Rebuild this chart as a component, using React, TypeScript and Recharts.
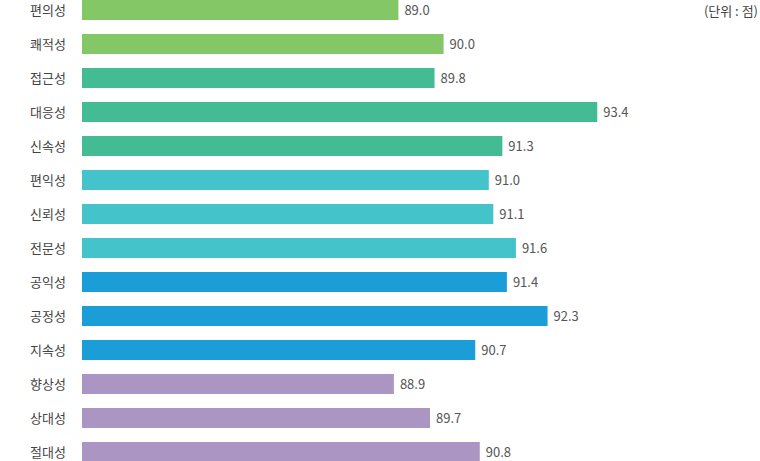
import { Bar, BarChart, Cell, LabelList, XAxis, YAxis } from "recharts";

const categories = [
	"편의성",
	"쾌적성",
	"접근성",
	"대응성",
	"신속성",
	"편익성",
	"신뢰성",
	"전문성",
	"공익성",
	"공정성",
	"지속성",
	"향상성",
	"상대성",
	"절대성",
];

const scores = [89.0, 90.0, 89.8, 93.4, 91.3, 91.0, 91.1, 91.6, 91.4, 92.3, 90.7, 88.9, 89.7, 90.8];

// group of each row, used to pick the bar colour
const groups = [0, 0, 1, 1, 1, 2, 2, 2, 3, 3, 3, 4, 4, 4];

const unitLabel = "(단위 : 점)";

const groupColors = ["#84c766", "#43bb93", "#45c3cb", "#1b9ed8", "#aa95c3"];

const FONT = "'Noto Sans CJK KR', 'Noto Sans', sans-serif";

const data = categories.map((name, i) => ({
	name,
	score: scores[i],
	group: groups[i],
}));

export default function App(): JSX.Element {
	return (
		<div style={{ position: "absolute", left: 0, top: 0, width: 760, height: 461, overflow: "hidden" }}>
			<div style={{ position: "absolute", left: 0, top: -7 }}>
				<BarChart
					width={760}
					height={476}
					data={data}
					layout="vertical"
					margin={{ top: 0, right: 0, bottom: 0, left: 0 }}
				>
					<XAxis type="number" domain={[82, 97]} allowDataOverflow hide />
					<YAxis
						type="category"
						dataKey="name"
						width={82}
						axisLine={false}
						tickLine={false}
						tickSize={0}
						tickMargin={16}
						tick={{ fill: "#444", fontSize: 13, fontFamily: FONT }}
						interval={0}
					/>
					<Bar dataKey="score" barSize={20} isAnimationActive={false}>
						{data.map((d) => (
							<Cell key={d.name} fill={groupColors[d.group]} />
						))}
						<LabelList
							dataKey="score"
							position="right"
							offset={6}
							formatter={(v: number) => v.toFixed(1)}
							style={{ fill: "#555", fontSize: 13, fontFamily: FONT }}
						/>
					</Bar>
				</BarChart>
			</div>
			<div
				style={{
					position: "absolute",
					right: 2,
					top: 1,
					fontSize: 13,
					color: "#444",
					fontFamily: FONT,
				}}
			>
				{unitLabel}
			</div>
		</div>
	);
}
